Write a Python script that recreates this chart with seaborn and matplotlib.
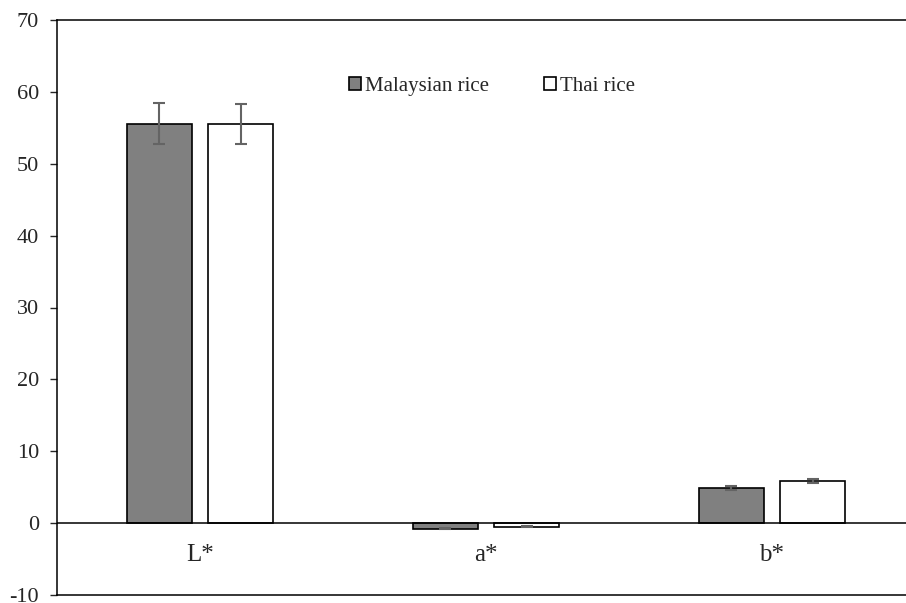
import numpy as np
import pandas as pd
import matplotlib
matplotlib.use("Agg")
import matplotlib.pyplot as plt
import seaborn as sns

# ===================== Data =====================
categories = ["L*", "a*", "b*"]
groups = ["Malaysian rice", "Thai rice"]
malaysian_mean = [55.6, -0.75, 4.9]
malaysian_sd = [2.8, 0.1, 0.3]
thai_mean = [55.5, -0.5, 5.9]
thai_sd = [2.8, 0.1, 0.25]
colors = ["#808080", "#ffffff"]

df = pd.DataFrame({
    "param": categories * 2,
    "group": [groups[0]] * 3 + [groups[1]] * 3,
    "value": malaysian_mean + thai_mean,
    "sd": malaysian_sd + thai_sd,
})

# ===================== Style =====================
sns.set_style("white")
plt.rcParams["font.family"] = ["Liberation Serif", "DejaVu Serif"]
plt.rcParams["axes.unicode_minus"] = False

fig = plt.figure(figsize=(9.06, 6.03), dpi=100)
W, H = 906, 603
ax = fig.add_axes([57 / W, (H - 595) / H, (915 - 57) / W, (595 - 20) / H])

sns.barplot(data=df, x="param", y="value", hue="group", order=categories,
            hue_order=groups, palette=colors, width=0.57, gap=0.2,
            edgecolor="black", linewidth=1.2, errorbar=None, ax=ax)

# error bars at bar centres
for i, g in enumerate(groups):
    sub = df[df["group"] == g].set_index("param").loc[categories]
    bars = ax.containers[i]
    xs = [b.get_x() + b.get_width() / 2 for b in bars]
    ax.errorbar(xs, sub["value"], yerr=sub["sd"], fmt="none", ecolor="#646464",
                elinewidth=1.5, capsize=4.5, capthick=1.5, zorder=5)

ax.axhline(0, color="black", lw=1.1, zorder=4)
ax.set_ylim(-10, 70)
ax.set_yticks(range(-10, 71, 10))
ax.set_xlim(-0.5, 2.5)
ax.set_xticks([])
ax.set_xlabel("")
ax.set_ylabel("")
ax.tick_params(axis="y", direction="out", length=5, width=1, labelsize=16,
               left=True, pad=8)
for s in ["left", "top", "bottom"]:
    ax.spines[s].set_color("black")
    ax.spines[s].set_linewidth(1.1)
ax.spines["right"].set_visible(False)

for i, cat in enumerate(categories):
    ax.annotate(cat, (i, 0), xytext=(0, -15), textcoords="offset points",
                ha="center", va="top", fontsize=18)

handles, labels = ax.get_legend_handles_labels()
ax.get_legend().remove()
fig.legend(handles, labels, loc="center", bbox_to_anchor=(0.543, 0.857),
           ncol=2, frameon=False, fontsize=15, handlelength=0.6,
           handleheight=0.6, handletextpad=0.2, columnspacing=2.6)

fig.savefig("out.png", dpi=100)
